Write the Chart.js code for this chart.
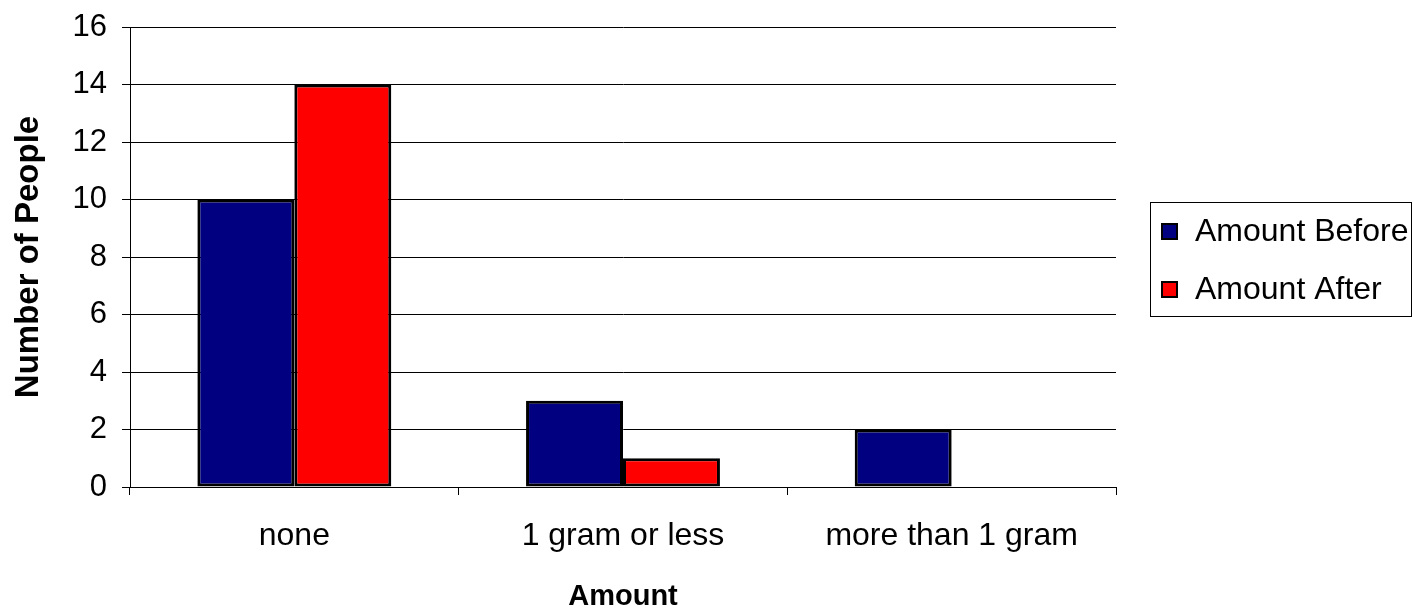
<!DOCTYPE html>
<html>
<head>
<meta charset="utf-8">
<title>Amount Before and After</title>
<script src="https://cdn.jsdelivr.net/npm/chart.js@4.4.1/dist/chart.umd.min.js"></script>
<style>
  html, body { margin: 0; padding: 0; background: #ffffff; }
  #wrap { width: 1413px; height: 611px; position: relative; }
</style>
</head>
<body>
<div id="wrap"><canvas id="c" width="1413" height="611"></canvas></div>
<script>
// Data
const categories = ['none', '1 gram or less', 'more than 1 gram'];
const amountBefore = [10, 3, 2];
const amountAfter = [14, 1, 0];
const seriesNames = ['Amount Before', 'Amount After'];
const yTicks = [0, 2, 4, 6, 8, 10, 12, 14, 16];

const FONT = "'Liberation Sans', Arial, sans-serif";

// Boxed legend on the right, drawn from the chart's datasets
const boxedLegend = {
  id: 'boxedLegend',
  afterDraw(chart) {
    const ctx = chart.ctx;
    const x0 = 1150, y0 = 202, x1 = 1412, y1 = 316;
    ctx.save();
    ctx.strokeStyle = '#000000';
    ctx.lineWidth = 1;
    ctx.strokeRect(x0 + 0.5, y0 + 0.5, x1 - x0 - 1, y1 - y0);
    ctx.font = '32px ' + FONT;
    ctx.textBaseline = 'middle';
    ctx.textAlign = 'left';
    const rowsY = [231, 289];
    chart.data.datasets.forEach((ds, i) => {
      const cy = rowsY[i];
      ctx.fillStyle = ds.backgroundColor;
      ctx.fillRect(x0 + 12, cy - 7, 15, 15);
      ctx.lineWidth = 2;
      ctx.strokeStyle = '#000000';
      ctx.strokeRect(x0 + 12, cy - 7, 15, 15);
      ctx.fillStyle = '#000000';
      ctx.fillText(ds.label, x0 + 45, cy + 1);
    });
    ctx.restore();
  }
};

const barStyle = {
  borderColor: '#000000',
  borderWidth: 3,
  borderSkipped: false,
  categoryPercentage: 0.59,
  barPercentage: 1.0
};

new Chart(document.getElementById('c'), {
  type: 'bar',
  data: {
    labels: categories,
    datasets: [
      Object.assign({ label: seriesNames[0], data: amountBefore, backgroundColor: '#000080' }, barStyle),
      Object.assign({ label: seriesNames[1], data: amountAfter, backgroundColor: '#FF0000' }, barStyle)
    ]
  },
  options: {
    responsive: false,
    animation: false,
    layout: { padding: { top: 27, right: 297, left: 0, bottom: 0 } },
    plugins: {
      legend: { display: false },
      tooltip: { enabled: false }
    },
    scales: {
      x: {
        offset: true,
        grid: {
          offset: true,
          drawOnChartArea: false,
          drawTicks: true,
          tickLength: 8,
          color: '#000000',
          lineWidth: 1
        },
        border: { display: true, color: '#000000', width: 1 },
        ticks: {
          color: '#000000',
          font: { family: FONT, size: 32 },
          padding: 22,
          maxRotation: 0,
          autoSkip: false
        },
        title: {
          display: true,
          text: 'Amount',
          color: '#000000',
          font: { family: FONT, size: 29, weight: 'bold', lineHeight: 1 },
          padding: { top: 0, bottom: 0 }
        },
        afterFit(scale) { scale.height = 124; }
      },
      y: {
        min: 0,
        max: 16,
        afterBuildTicks(scale) {
          scale.ticks = yTicks.map(v => ({ value: v }));
        },
        grid: {
          drawOnChartArea: true,
          drawTicks: true,
          tickLength: 8,
          color: '#000000',
          lineWidth: 1
        },
        border: { display: true, color: '#000000', width: 1 },
        ticks: {
          color: '#000000',
          font: { family: FONT, size: 31, lineHeight: 0.6 },
          padding: 15
        },
        title: {
          display: true,
          text: 'Number of People',
          color: '#000000',
          font: { family: FONT, size: 33, weight: 'bold', lineHeight: 1 },
          padding: { top: 12, bottom: 0 }
        },
        afterFit(scale) { scale.width = 130; }
      }
    }
  },
  plugins: [boxedLegend]
});
</script>
</body>
</html>
